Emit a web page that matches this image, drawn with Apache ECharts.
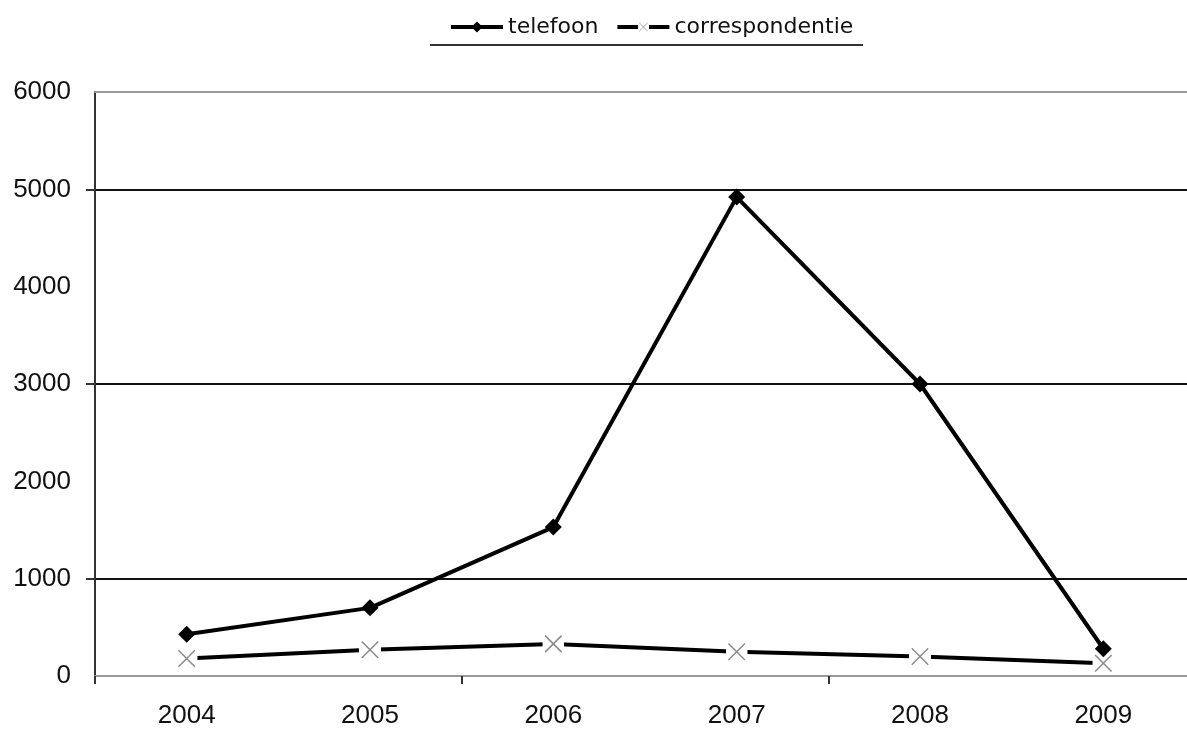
<!DOCTYPE html>
<html>
<head>
<meta charset="utf-8">
<style>
  html, body { margin: 0; padding: 0; background: #fff; }
  #chart { width: 1187px; height: 729px; }
</style>
<script src="https://cdn.jsdelivr.net/npm/echarts@6/dist/echarts.min.js"></script>
</head>
<body>
<div id="chart"></div>
<script>
// Years on the horizontal axis
const years = ['2004', '2005', '2006', '2007', '2008', '2009'];
// Yearly counts per channel
const telefoon = [430, 700, 1530, 4920, 3000, 280];
const correspondentie = [180, 270, 330, 250, 200, 130];
// Value-axis labels and the levels that carry a gridline
const yLabels = [0, 1000, 2000, 3000, 4000, 5000, 6000];
const yGridLevels = [1000, 3000, 5000];

// Cross marker on a white backing so the line breaks around each point
const crossSvg =
  '<svg xmlns="http://www.w3.org/2000/svg" width="24" height="24" viewBox="0 0 24 24">' +
  '<rect x="0" y="0" width="24" height="24" fill="#ffffff"/>' +
  '<path d="M3 3 L21 21 M21 3 L3 21" stroke="#8a8a8a" stroke-width="1.6" fill="none"/>' +
  '</svg>';
const crossSymbol = 'image://data:image/svg+xml;charset=utf-8,' + encodeURIComponent(crossSvg);

const chart = echarts.init(document.getElementById('chart'), null, { renderer: 'canvas' });

const axisFont = { fontFamily: '"Liberation Sans", Arial, sans-serif', fontSize: 26, color: '#111' };

chart.setOption({
  animation: false,
  backgroundColor: '#ffffff',
  legend: {
    data: ['telefoon', 'correspondentie'],
    top: 11,
    left: 444,
    itemWidth: 52,
    itemHeight: 14,
    itemGap: 17,
    lineStyle: { width: 4 },
    textStyle: { fontFamily: '"DejaVu Sans", Verdana, sans-serif', fontSize: 22, color: '#111' }
  },
  graphic: [{
    type: 'line',
    shape: { x1: 430, y1: 45, x2: 863, y2: 45 },
    style: { stroke: '#333', lineWidth: 2 },
    silent: true
  }],
  grid: { left: 95, top: 92, width: 1100, height: 584, outerBoundsMode: 'none', containLabel: false },
  xAxis: [{
    type: 'category',
    data: years,
    boundaryGap: true,
    axisLine: { show: true, lineStyle: { color: '#999', width: 2 } },
    axisTick: { show: true, interval: 1, length: 8, lineStyle: { color: '#333', width: 2 } },
    axisLabel: Object.assign({ margin: 27 }, axisFont),
    splitLine: { show: false }
  }, {
    // top border of the plot area
    type: 'category',
    data: years,
    position: 'top',
    axisLine: { show: true, lineStyle: { color: '#999', width: 2 } },
    axisTick: { show: false },
    axisLabel: { show: false },
    splitLine: { show: false }
  }],
  yAxis: {
    type: 'value',
    min: 0,
    max: 6000,
    interval: 1000,
    axisLine: { show: true, lineStyle: { color: '#333', width: 2 } },
    axisTick: { show: true, customValues: yGridLevels, length: 9, lineStyle: { color: '#333', width: 2 } },
    axisLabel: Object.assign({ margin: 24, customValues: yLabels, formatter: v => String(v) }, axisFont),
    splitLine: { show: true, lineStyle: { color: '#111', width: 2 } }
  },
  series: [{
    name: 'correspondentie',
    type: 'line',
    data: correspondentie,
    z: 2,
    symbol: crossSymbol,
    symbolSize: 22,
    lineStyle: { color: '#000', width: 4 },
    itemStyle: { color: '#000' }
  }, {
    name: 'telefoon',
    type: 'line',
    data: telefoon,
    z: 3,
    symbol: 'diamond',
    symbolSize: 17,
    lineStyle: { color: '#000', width: 4 },
    itemStyle: { color: '#000' }
  }]
});
</script>
</body>
</html>
